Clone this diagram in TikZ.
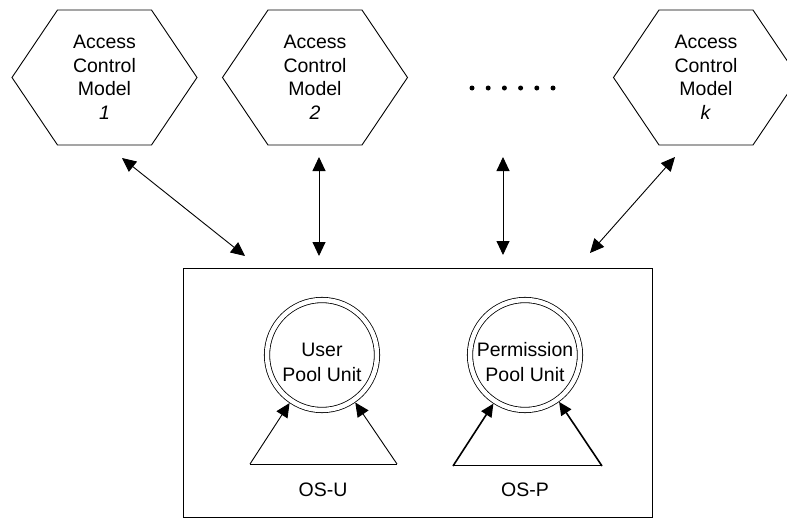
\documentclass[tikz,border=0pt]{standalone}
\usepackage{fontspec}
\setmainfont{Liberation Sans}
\usetikzlibrary{arrows.meta,calc}
\begin{document}
\begin{tikzpicture}[x=1pt,y=-1pt,
  lbl/.style={font=\fontsize{19.5}{23.5}\selectfont, align=center, inner sep=0pt},
  pool/.style={circle, draw, double, double distance=4.5pt, line width=0.8pt, minimum size=110pt, outer sep=3pt, inner sep=0pt},
  pooltext/.style={font=\fontsize{19.5}{25}\selectfont, align=center, inner sep=0pt},
  link/.style={line width=0.9pt, {Triangle[length=14pt,width=13pt]}-{Triangle[length=14pt,width=13pt]}},
  feed/.style={line width=0.9pt, -{Triangle[length=14pt,width=13pt]}},
  feedb/.style={line width=1.6pt, -{Triangle[length=13pt,width=12pt]}},
  hexa/.pic={\draw[line width=0.9pt] (-92.5,0) -- (-47,-67.5) -- (47,-67.5) -- (92.5,0) -- (47,67.5) -- (-47,67.5) -- cycle;},
  dot/.style={circle, fill, inner sep=0pt, minimum size=5pt}
]
\useasboundingbox (0,0) rectangle (787,527);
\fill[white] (0,0) rectangle (787,527);

% hexagons
\pic at (104.5,77.5) {hexa};
\pic at (315,77.5) {hexa};
\pic at (706,77.5) {hexa};
\node[lbl] (h1) at (104.5,77.5) {Access\\Control\\Model\\\textit{1}};
\node[lbl] (h2) at (315,77.5) {Access\\Control\\Model\\\textit{2}};
\node[lbl] (hk) at (706,77.5) {Access\\Control\\Model\\\textit{k}};

% dots
\foreach \i/\x in {1/472,2/488.2,3/504.4,4/520.6,5/536.8,6/553}
  \node[dot] (d\i) at (\x,88) {};

% box
\node[draw, line width=0.9pt, minimum width=469pt, minimum height=249pt, inner sep=0pt] (box) at (417.5,392.5) {};

% arrow endpoints
\coordinate (a1t) at (122,158);
\coordinate (a1b) at (245,256);
\coordinate (a2t) at (319,157);
\coordinate (a2b) at (319,256);
\coordinate (a3t) at (503,157);
\coordinate (a3b) at (503,255);
\coordinate (a4t) at (675,157);
\coordinate (a4b) at (590,253);
\draw[link] (a1t) -- (a1b);
\draw[link] (a2t) -- (a2b);
\draw[link] (a3t) -- (a3b);
\draw[link] (a4t) -- (a4b);

% pools
\node[pool] (U) at (322,355) {};
\node[pooltext] (Ut) at ($(U)+(0,7)$) {User\\Pool Unit};
\node[pool] (P) at (525,355) {};
\node[pooltext] (Pt) at ($(P)+(0,7)$) {Permission\\Pool Unit};

% OS-U triangle
\coordinate (u1) at (250,464);
\coordinate (u2) at (397,464);
\draw[line width=0.9pt] (u1) -- (u2);
\draw[feed] (u1) -- (U.-124);
\draw[feed] (u2) -- (U.-55);
\node[lbl] (osu) at (323,490) {OS-U};

% OS-P triangle
\coordinate (p1) at (453,466);
\coordinate (p2) at (602,466);
\draw[line width=0.7pt, double, double distance=0.8pt] (p1) -- (p2);
\draw[feedb] (p1) -- (P.-123);
\draw[feedb] (p2) -- (P.-54);
\node[lbl] (osp) at (525,490) {OS-P};
\end{tikzpicture}
\end{document}
